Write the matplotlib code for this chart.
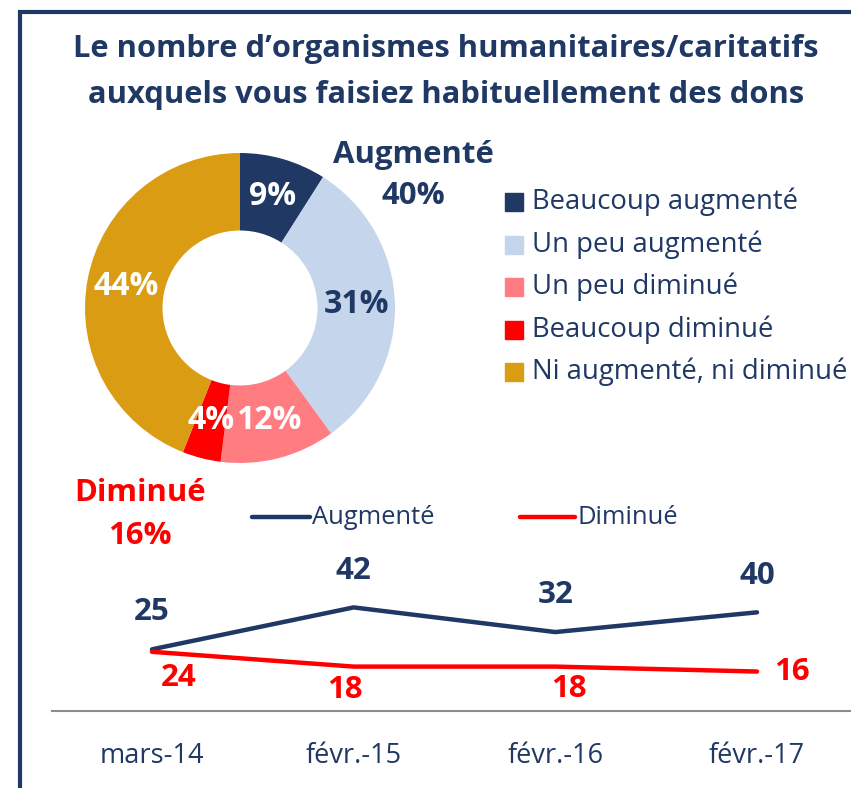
"""Donut + line chart: nombre d'organismes auxquels on fait des dons."""
import matplotlib
matplotlib.use("Agg")
import matplotlib.pyplot as plt
from matplotlib.patches import Rectangle
from matplotlib.lines import Line2D
import numpy as np

W, H = 851, 788
NAVY = "#1F3864"
RED = "#FF0000"

# --- data ---------------------------------------------------------------------------------
title_lines = ["Le nombre d\u2019organismes humanitaires/caritatifs",
               "auxquels vous faisiez habituellement des dons"]
slice_labels = ["Beaucoup augmenté", "Un peu augmenté", "Un peu diminué",
                "Beaucoup diminué", "Ni augmenté, ni diminué"]
slice_values = [9, 31, 12, 4, 44]
slice_colors = [NAVY, "#C5D5EB", "#FF7C80", RED, "#D99C13"]
slice_text_colors = ["white", NAVY, "white", "white", "white"]

periods = ["mars-14", "févr.-15", "févr.-16", "févr.-17"]
augmente = [25, 42, 32, 40]
diminue = [24, 18, 18, 16]
total_aug = 40
total_dim = 16

plt.rcParams["font.family"] = ["Open Sans", "DejaVu Sans"]


def fx(px):
    return px / W


def fy(py):
    return 1 - py / H


fig = plt.figure(figsize=(W / 100, H / 100), dpi=100)

# frame (only left and top edges visible in the crop)
fig.patches.append(Rectangle((fx(20), fy(900)), fx(1000), fy(11.5) - fy(900),
                             transform=fig.transFigure, fill=False,
                             edgecolor=NAVY, lw=3, clip_on=False))

for line, base in zip(title_lines, [57, 103]):
    fig.text(fx(446), fy(base), line, ha="center", va="baseline", fontsize=22.2,
             fontweight="bold", color=NAVY)

# --- donut --------------------------------------------------------------------------------
r = 155
ax_p = fig.add_axes([fx(240 - r), fy(308 + r), fx(2 * r), fx(2 * r) * W / H])
wedges, _ = ax_p.pie(slice_values, colors=slice_colors, startangle=90, counterclock=False,
                     wedgeprops=dict(width=0.5, edgecolor="none"))
ax_p.set_xlim(-1, 1)
ax_p.set_ylim(-1, 1)
for w, v, c in zip(wedges, slice_values, slice_text_colors):
    ang = np.deg2rad((w.theta1 + w.theta2) / 2)
    ax_p.text(0.75 * np.cos(ang), 0.75 * np.sin(ang), f"{v}%", ha="center", va="center",
              fontsize=23, fontweight="bold", color=c)

fig.text(fx(413), fy(155), "Augmenté", ha="center", va="center", fontsize=22.4,
         fontweight="bold", color=NAVY)
fig.text(fx(413), fy(196), f"{total_aug}%", ha="center", va="center", fontsize=22.4,
         fontweight="bold", color=NAVY)
fig.text(fx(140), fy(493), "Diminué", ha="center", va="center", fontsize=22.4,
         fontweight="bold", color=RED)
fig.text(fx(140), fy(536), f"{total_dim}%", ha="center", va="center", fontsize=22.4,
         fontweight="bold", color=RED)

# legend of the donut
for i, (lab, col) in enumerate(zip(slice_labels, slice_colors)):
    yc = 202 + i * 42.5
    fig.patches.append(Rectangle((fx(505), fy(yc + 9)), fx(18), fy(yc - 9) - fy(yc + 9),
                                 transform=fig.transFigure, color=col))
    fig.text(fx(532), fy(yc), lab, ha="left", va="center", fontsize=19.8, color=NAVY)

# --- line chart ---------------------------------------------------------------------------
x0_px, x3_px = 152, 757
step = (x3_px - x0_px) / 3
ax = fig.add_axes([fx(52), fy(711), fx(851) - fx(52), fy(563) - fy(711)])
ax.set_xlim((52 - x0_px) / step, (851 - x0_px) / step)
ax.set_ylim(0, 60)
x = np.arange(len(periods))
ax.plot(x, augmente, color=NAVY, lw=3.2, solid_capstyle="round")
ax.plot(x, diminue, color=RED, lw=3.2, solid_capstyle="round")

aug_offsets = [(0, 27), (0, 26.5), (0, 27), (0, 26.5)]
dim_offsets = [(19, -19), (-6, -16.5), (10, -16), (25, 0)]
for xi, v, off in zip(x, augmente, aug_offsets):
    ax.annotate(str(v), (xi, v), xytext=off, textcoords="offset points", ha="center",
                va="center", fontsize=22.5, fontweight="bold", color=NAVY)
for xi, v, off in zip(x, diminue, dim_offsets):
    ax.annotate(str(v), (xi, v), xytext=off, textcoords="offset points", ha="center",
                va="center", fontsize=22.5, fontweight="bold", color=RED)

for s in ["top", "left", "right"]:
    ax.spines[s].set_visible(False)
ax.spines["bottom"].set_color("#8C8C8C")
ax.spines["bottom"].set_linewidth(1.5)
ax.set_yticks([])
ax.set_xticks(x)
ax.set_xticklabels(periods, fontsize=19.5, color=NAVY)
ax.tick_params(axis="x", length=0, pad=22)
ax.patch.set_visible(False)

# legend of the line chart
for (xa, xb), lab, col in [((252, 310), "Augmenté", NAVY), ((520, 575), "Diminué", RED)]:
    fig.lines.append(Line2D([fx(xa), fx(xb)], [fy(517), fy(517)], transform=fig.transFigure,
                            color=col, lw=3.2, solid_capstyle="round"))
    fig.text(fx(xb + 2), fy(517), lab, ha="left", va="center", fontsize=18.4, color=NAVY)

fig.savefig("out.png", dpi=100)
